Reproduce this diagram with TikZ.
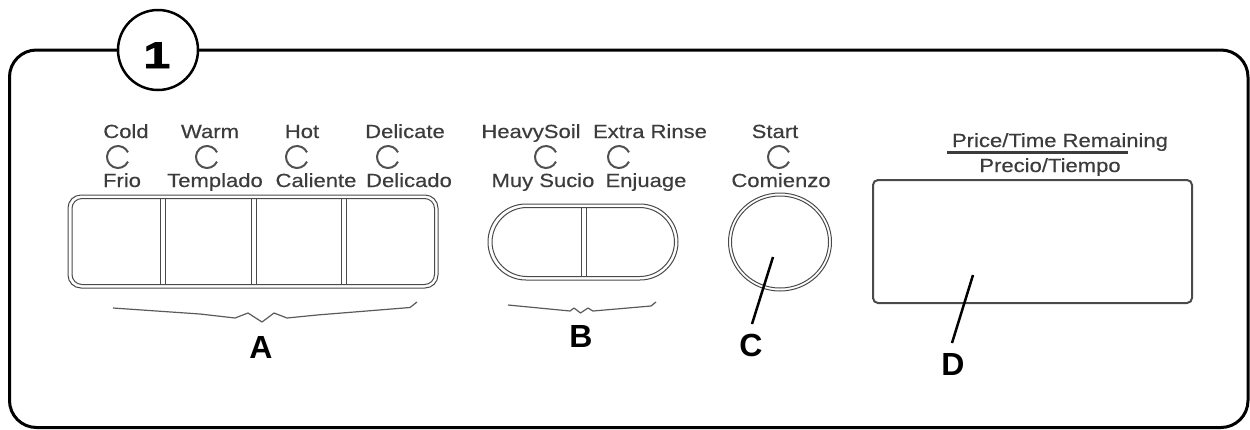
\documentclass[tikz,border=0pt]{standalone}
\usepackage{fontspec}
\setmainfont{Liberation Sans}
\newfontfamily\lblfont[FakeStretch=1.16,FakeBold=0.4]{Liberation Sans}
\newfontfamily\numfont[FakeBold=2.5,FakeStretch=1.3]{Liberation Sans Bold}
\definecolor{txtgray}{HTML}{3C3C3C}
\definecolor{ledgray}{HTML}{505050}
\definecolor{btngray}{HTML}{4A4A4A}
\definecolor{bracegray}{HTML}{5A5A5A}
\tikzset{
  lbl/.style={font=\lblfont\fontsize{19}{19}\selectfont, text=txtgray, anchor=base, inner sep=0pt},
  letter/.style={font=\fontsize{32}{32}\selectfont\bfseries, anchor=base, inner sep=0pt},
  ledring/.style={draw=ledgray, line width=2pt},
  btnline/.style={draw=btngray, line width=1pt},
  bracket/.style={draw=bracegray, line width=1.2pt, line join=round},
  pointer/.style={draw=black, line width=2.5pt},
  panel/.style={draw=black, line width=3pt},
}
\newcommand{\ledat}[1]{\draw[ledring] (#1) ++(25:11) arc[start angle=25, end angle=335, radius=11];}
\begin{document}
\begin{tikzpicture}[x=1pt,y=-1pt]
\useasboundingbox (0,0) rectangle (1250,429);
% outer panel
\draw[panel, rounded corners=27pt] (9.5,50) rectangle (1248,427.5);
% number circle
\node[circle, draw=black, line width=2.5pt, fill=white, minimum size=80pt, inner sep=0pt] (numc) at (158,50) {};
\node[anchor=base, inner sep=0pt, font=\numfont\fontsize{37}{37}\selectfont] (num) at (157,68) {1};

% ---- group A labels
\node[lbl] (cold) at (126,138) {Cold};
\node[lbl] (warm) at (210,138) {Warm};
\node[lbl] (hot) at (302,138) {Hot};
\node[lbl] (delicate) at (405,138) {Delicate};
\node[lbl] (frio) at (122,187) {Frio};
\node[lbl] (templado) at (215,187) {Templado};
\node[lbl] (caliente) at (316,187) {Caliente};
\node[lbl] (delicado) at (409,187) {Delicado};
\coordinate (ledcold) at (118,157);
\coordinate (ledwarm) at (207,157);
\coordinate (ledhot) at (297,157);
\coordinate (leddel) at (388,157);
\ledat{ledcold}\ledat{ledwarm}\ledat{ledhot}\ledat{leddel}
% button bar A
\draw[btnline, rounded corners=13pt] (68,195) rectangle (438,288);
\draw[btnline, rounded corners=10pt] (72,198.5) rectangle (434.5,284.5);
\foreach \xx in {160,165,251,256,341,346}{\draw[btnline] (\xx,198.5) -- (\xx,284.5);}
% bracket A
\draw[bracket] (113,308) -- (200,314) -- (235,318) -- (248,313) -- (262,322) -- (274,313) -- (287,318) -- (317,315) -- (410,307.5) -- (417,302);
\node[letter] (lblA) at (261,358) {A};

% ---- group B
\node[lbl] (heavy) at (531,138) {HeavySoil};
\node[lbl] (extra) at (650,138) {Extra Rinse};
\node[lbl] (muy) at (543,187) {Muy Sucio};
\node[lbl] (enj) at (646,187) {Enjuage};
\coordinate (ledheavy) at (546,157);
\coordinate (ledextra) at (619,157);
\ledat{ledheavy}\ledat{ledextra}
\draw[btnline, rounded corners=38pt] (488,204) rectangle (678,280);
\draw[btnline, rounded corners=35pt] (492,207.5) rectangle (674.5,276.5);
\draw[btnline] (581,207.5) -- (581,276.5);
\draw[btnline] (586,207.5) -- (586,276.5);
\draw[bracket] (508,305) -- (570,311) -- (574,308) -- (580.5,313) -- (588,308) -- (593,311) -- (651,306) -- (656,302);
\node[letter] (lblB) at (581,347) {B};

% ---- start C
\node[lbl] (start) at (775,138) {Start};
\node[lbl] (comienzo) at (781,187) {Comienzo};
\coordinate (ledstart) at (779,157);
\ledat{ledstart}
\draw[btnline] (780,242) ellipse [x radius=51.5, y radius=49];
\draw[btnline] (780,242) ellipse [x radius=48.5, y radius=46];
\coordinate (ctip) at (773,257);
\coordinate (cend) at (752,324);
\draw[pointer] (ctip) -- (cend);
\node[letter] (lblC) at (751,356) {C};

% ---- display D
\node[lbl] (price) at (1060,147) {Price/Time Remaining};
\draw[draw=txtgray, line width=2.5pt] (947,152.5) -- (1128,152.5);
\node[lbl] (precio) at (1050,172) {Precio/Tiempo};
\draw[draw=btngray, line width=2pt, rounded corners=5pt] (873,180) rectangle (1192,303);
\coordinate (dtip) at (973,275);
\coordinate (dend) at (952,343);
\draw[pointer] (dtip) -- (dend);
\node[letter] (lblD) at (953,375) {D};
\end{tikzpicture}
\end{document}
